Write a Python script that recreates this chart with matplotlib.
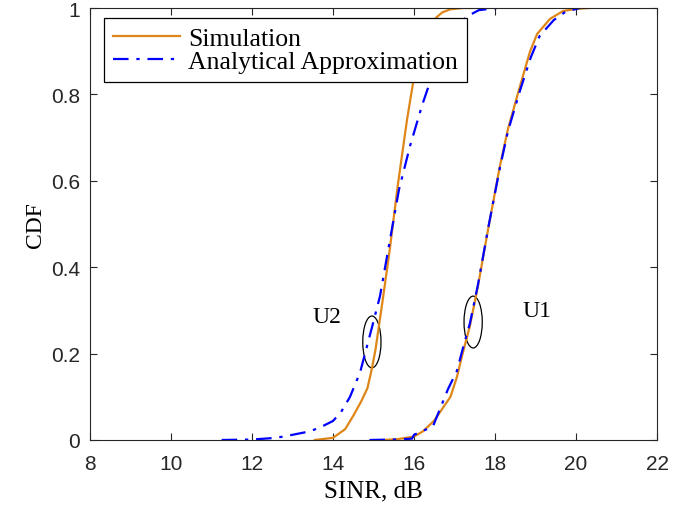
import matplotlib
matplotlib.use("Agg")
import matplotlib.pyplot as plt
from matplotlib.patches import Ellipse

# CDF curves (SINR in dB, CDF value)
u2_sim_x = [13.55, 14.0, 14.3, 14.5, 14.7, 14.85, 14.96, 15.05, 15.23, 15.4, 15.6, 15.83, 16.0, 16.2, 16.4, 16.55, 16.7, 16.9, 17.2, 17.4]
u2_sim_y = [0.0, 0.005, 0.025, 0.056, 0.09, 0.12, 0.165, 0.21, 0.326, 0.44, 0.59, 0.743, 0.84, 0.9, 0.95, 0.978, 0.99, 0.997, 1.0, 1.0]

u2_ana_x = [11.25, 12.0, 12.6, 13.0, 13.43, 13.7, 14.0, 14.2, 14.42, 14.67, 14.96, 15.16, 15.4, 15.63, 15.9, 16.2, 16.4, 16.7, 17.0, 17.3, 17.6, 18.05]
u2_ana_y = [0.0, 0.001, 0.005, 0.012, 0.02, 0.03, 0.044, 0.065, 0.10, 0.157, 0.26, 0.333, 0.46, 0.58, 0.68, 0.775, 0.83, 0.9, 0.95, 0.98, 0.995, 1.0]

u1_sim_x = [15.25, 15.6, 16.0, 16.22, 16.5, 16.9, 17.06, 17.2, 17.38, 17.58, 17.83, 18.12, 18.32, 18.62, 18.86, 19.04, 19.36, 19.68, 20.0, 20.35]
u1_sim_y = [0.0, 0.002, 0.008, 0.02, 0.045, 0.10, 0.146, 0.2, 0.264, 0.357, 0.488, 0.634, 0.72, 0.82, 0.898, 0.94, 0.975, 0.993, 0.998, 1.0]

u1_ana_x = [14.9, 15.5, 15.95, 16.0, 16.2, 16.47, 16.84, 17.06, 17.2, 17.38, 17.58, 17.83, 18.12, 18.32, 18.62, 18.88, 19.1, 19.45, 19.75, 20.1]
u1_ana_y = [0.0, 0.001, 0.003, 0.012, 0.02, 0.032, 0.118, 0.16, 0.21, 0.27, 0.36, 0.49, 0.63, 0.715, 0.81, 0.885, 0.935, 0.972, 0.992, 1.0]

labels = ["Simulation", "Analytical Approximation"]
xticks = [8, 10, 12, 14, 16, 18, 20, 22]
yticks = [0, 0.2, 0.4, 0.6, 0.8, 1]

orange = "#DF8618"
serif = ["Liberation Serif", "DejaVu Serif"]
sans = ["Liberation Sans", "DejaVu Sans"]

fig = plt.figure(figsize=(6.89, 5.06), dpi=100)
ax = fig.add_axes([0.1306, 0.1285, 0.823, 0.8537])

ax.plot(u2_sim_x, u2_sim_y, color=orange, lw=1.6, label=labels[0])
ax.plot(u2_ana_x, u2_ana_y, color="blue", lw=1.6, ls=(0, (7, 3.5, 1.5, 3.5)), label=labels[1])
ax.plot(u1_sim_x, u1_sim_y, color=orange, lw=1.6)
ax.plot(u1_ana_x, u1_ana_y, color="blue", lw=1.6, ls=(0, (7, 3.5, 1.5, 3.5)))

ax.add_patch(Ellipse((14.96, 0.227), 0.45, 0.12, fill=False, ec="black", lw=0.9))
ax.add_patch(Ellipse((17.46, 0.273), 0.45, 0.12, fill=False, ec="black", lw=0.9))
ax.text(13.85, 0.285, "U2", fontsize=17, family=serif, ha="center", va="center")
ax.text(19.04, 0.30, "U1", fontsize=17, family=serif, ha="center", va="center")

ax.set_xlim(8, 22)
ax.set_ylim(0, 1)
ax.set_xticks(xticks)
ax.set_yticks(yticks)
ax.set_yticklabels(["0", "0.2", "0.4", "0.6", "0.8", "1"])
ax.tick_params(direction="in", top=True, right=True, length=5, width=0.8,
               labelsize=15, colors="#262626", pad=7)
ax.tick_params(axis="x", pad=10)
for lab in ax.get_xticklabels() + ax.get_yticklabels():
    lab.set_family(sans)
for sp in ax.spines.values():
    sp.set_color("#262626")
    sp.set_linewidth(0.8)

ax.set_xlabel("SINR, dB", fontsize=18, family=serif, labelpad=5)
ax.set_ylabel("CDF", fontsize=17, family=serif, labelpad=4)

leg = ax.legend(loc="upper left", bbox_to_anchor=(0.0247, 0.977), borderaxespad=0,
                prop={"family": serif, "size": 18.5}, frameon=True, fancybox=False,
                framealpha=1, handlelength=2.6, handletextpad=0.3, labelspacing=0.0,
                borderpad=0.36)
leg.get_frame().set_edgecolor("black")
leg.get_frame().set_linewidth(0.9)

fig.savefig("out.png", dpi=100)
